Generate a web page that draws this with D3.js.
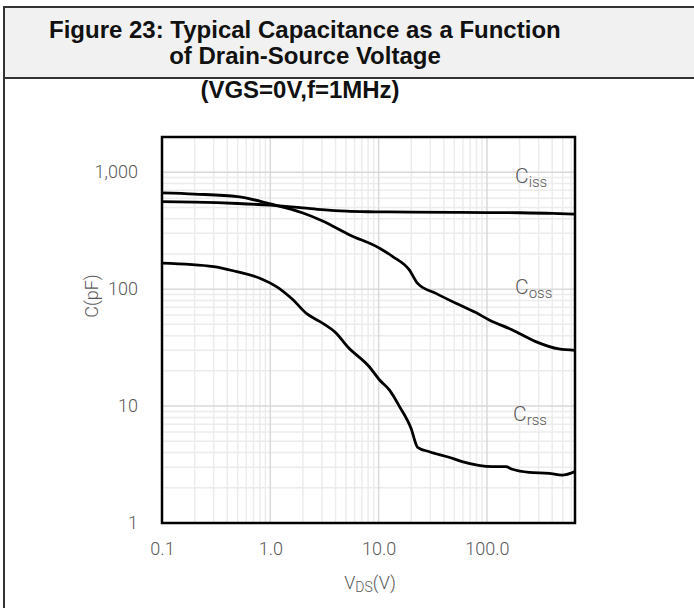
<!DOCTYPE html>
<head>
  <meta charset="utf-8">
  <script src="https://d3js.org/d3.v7.min.js"></script>
  <style>
    body { margin: 0; background: #fff; }
    .title { font-family: "Liberation Sans", Arial, sans-serif; font-weight: bold; font-size: 24px; fill: #111; }
    .tick text { font-family: Roboto, sans-serif; font-weight: 300; font-size: 18px; fill: #595959; }
    .lbl { font-family: Roboto, sans-serif; font-weight: 300; fill: #595959; }
    .curve { fill: none; stroke: #000; stroke-width: 2.8px; stroke-linejoin: round; }
  </style>
</head>
<body>
<script>
  // Voltage (V) points and capacitance (pF)
  var cissV = [0.1, 0.2, 0.5, 1, 2, 3, 5, 8, 10, 20, 50, 100, 200, 400, 650];
  var cissC = [560, 555, 540, 522, 495, 478, 464, 459, 458, 455, 454, 452, 450, 445, 438];

  var cossV = [0.1, 0.2, 0.5, 1, 2, 3, 5.4, 10.2, 13.5, 19.2, 22.9, 33.8, 51.7, 79, 105, 172, 282, 462, 650];
  var cossC = [665, 650, 618, 535, 448, 385, 291, 224, 190, 146, 112, 92, 75.7, 63, 54.5, 44.8, 35.6, 30.8, 30];

  var crssV = [0.1, 0.3, 0.49, 0.8, 1.14, 1.62, 2.15, 2.85, 4.06, 5.2, 8.2, 10.2, 12.6, 15.6, 19.9, 22.9, 29.4, 44.7, 59, 112, 149, 172, 245, 374, 495, 650];
  var crssC = [167, 156, 141, 124, 105, 81, 62, 53, 42, 32, 21.7, 16.7, 13.7, 9.9, 6.46, 4.44, 4.07, 3.65, 3.35, 3.03, 3.03, 2.88, 2.71, 2.66, 2.57, 2.75];

  var xTicks = [0.1, 1, 10, 100];
  var xTickLabels = ["0.1", "1.0", "10.0", "100.0"];
  var yTicks = [1, 10, 100, 1000];
  var yTickLabels = ["1", "10", "100", "1,000"];

  var W = 694, H = 608;
  var plot = { left: 162, right: 575, top: 137, bottom: 523 };

  var svg = d3.select("body").append("svg")
      .attr("width", W)
      .attr("height", H);

  // title block
  svg.append("rect").attr("x", 4).attr("y", 7).attr("width", W).attr("height", 71)
      .attr("fill", "#f1f1f1");
  svg.append("line").attr("x1", 4).attr("x2", W).attr("y1", 7).attr("y2", 7)
      .attr("stroke", "#333").attr("stroke-width", 2);
  svg.append("line").attr("x1", 4).attr("x2", W).attr("y1", 78).attr("y2", 78)
      .attr("stroke", "#333").attr("stroke-width", 2);
  svg.append("line").attr("x1", 4).attr("x2", 4).attr("y1", 6).attr("y2", H)
      .attr("stroke", "#333").attr("stroke-width", 2);

  svg.append("text").attr("class", "title").attr("x", 49).attr("y", 38)
      .text("Figure 23: Typical Capacitance as a Function");
  svg.append("text").attr("class", "title").attr("x", 305).attr("y", 64)
      .attr("text-anchor", "middle").text("of Drain-Source Voltage");
  svg.append("text").attr("class", "title").attr("x", 300).attr("y", 98)
      .attr("text-anchor", "middle").text("(VGS=0V,f=1MHz)");

  var x = d3.scaleLog().domain([0.1, 650]).range([plot.left, plot.right]);
  var y = d3.scaleLog().domain([1, 2000]).range([plot.bottom, plot.top]);

  // grid
  var g = svg.append("g");
  var xMinor = [], yMinor = [];
  [0.1, 1, 10, 100].forEach(function(d) {
    for (var k = 2; k <= 9; k++) if (d * k < 650) xMinor.push(d * k);
  });
  [1, 10, 100, 1000].forEach(function(d) {
    for (var k = 2; k <= 9; k++) if (d * k < 2000) yMinor.push(d * k);
  });
  g.selectAll(".xm").data(xMinor).enter().append("line")
      .attr("x1", x).attr("x2", x).attr("y1", plot.top).attr("y2", plot.bottom)
      .attr("stroke", "#ececec").attr("stroke-width", 1.5);
  g.selectAll(".ym").data(yMinor).enter().append("line")
      .attr("y1", y).attr("y2", y).attr("x1", plot.left).attr("x2", plot.right)
      .attr("stroke", "#ececec").attr("stroke-width", 1.5);
  g.selectAll(".xM").data([1, 10, 100]).enter().append("line")
      .attr("x1", x).attr("x2", x).attr("y1", plot.top).attr("y2", plot.bottom)
      .attr("stroke", "#d9d9d9").attr("stroke-width", 1.5);
  g.selectAll(".yM").data([10, 100, 1000]).enter().append("line")
      .attr("y1", y).attr("y2", y).attr("x1", plot.left).attr("x2", plot.right)
      .attr("stroke", "#d9d9d9").attr("stroke-width", 1.5);

  // axes
  var xAxis = d3.axisBottom(x).tickValues(xTicks).tickSize(0).tickPadding(19)
      .tickFormat(function(d, i) { return xTickLabels[i]; });
  svg.append("g").attr("class", "x axis")
      .attr("transform", "translate(0," + plot.bottom + ")")
      .call(xAxis)
      .call(function(s) { s.select(".domain").remove(); });

  var yAxis = d3.axisLeft(y).tickValues(yTicks).tickSize(0).tickPadding(24)
      .tickFormat(function(d, i) { return yTickLabels[i]; });
  svg.append("g").attr("class", "y axis")
      .attr("transform", "translate(" + plot.left + ",0)")
      .call(yAxis)
      .call(function(s) { s.select(".domain").remove(); });

  // curves
  var line = d3.line()
      .x(function(d) { return x(d[0]); })
      .y(function(d) { return y(d[1]); })
      .curve(d3.curveMonotoneX);

  [[cissV, cissC], [cossV, cossC], [crssV, crssC]].forEach(function(s) {
    svg.append("path").attr("class", "curve")
        .attr("d", line(d3.zip(s[0], s[1])));
  });

  // frame
  svg.append("rect").attr("x", plot.left).attr("y", plot.top)
      .attr("width", plot.right - plot.left).attr("height", plot.bottom - plot.top)
      .attr("fill", "none").attr("stroke", "#000").attr("stroke-width", 2.5);

  // curve labels
  function capLabel(px, py, sub) {
    var t = svg.append("text").attr("class", "lbl").attr("x", px).attr("y", py);
    t.append("tspan").attr("font-size", "21px").text("C");
    t.append("tspan").attr("font-size", "15px").attr("dy", 4).text(sub);
  }
  capLabel(515, 183, "iss");
  capLabel(515, 294, "oss");
  capLabel(513, 421, "rss");

  // axis titles
  svg.append("text").attr("class", "lbl").attr("font-size", "18px")
      .attr("transform", "translate(98,296) rotate(-90)")
      .attr("text-anchor", "middle").text("C(pF)");
  var vt = svg.append("text").attr("class", "lbl").attr("x", 370).attr("y", 589)
      .attr("text-anchor", "middle").attr("font-size", "18px");
  vt.append("tspan").text("V");
  vt.append("tspan").attr("font-size", "14px").attr("dy", 3).text("DS");
  vt.append("tspan").attr("dy", -3).text("(V)");
</script>
</body>
